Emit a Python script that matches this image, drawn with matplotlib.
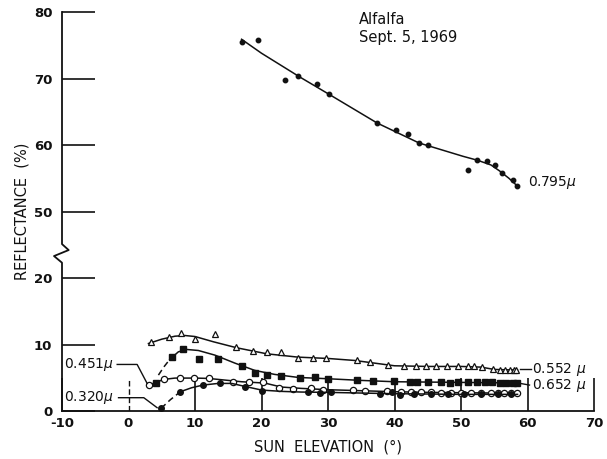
import matplotlib
matplotlib.use("Agg")
import matplotlib.pyplot as plt
from matplotlib.lines import Line2D

plt.rcParams['font.family'] = ['DejaVu Sans']

# ---- data (sun elevation in degrees, reflectance in %) ----
# 0.795 micron (filled dots), upper part of the broken axis
x795 = [17.1, 19.4, 23.6, 25.5, 28.3, 30.2, 37.4, 40.2, 42.0, 43.7, 45.0,
        51.1, 52.4, 53.9, 55.1, 56.2, 57.8, 58.4]
y795 = [75.5, 75.8, 69.7, 70.4, 69.2, 67.6, 63.3, 62.3, 61.7, 60.3, 60.0,
        56.2, 57.7, 57.6, 57.0, 55.8, 54.8, 53.8]
cx795 = [17.0, 20.0, 25.8, 30.2, 37.4, 43.7, 50.3, 52.5, 54.5, 55.8, 57.2, 58.4]
cy795 = [75.9, 73.8, 70.2, 67.6, 63.3, 60.3, 58.3, 57.7, 57.0, 56.1, 55.0, 53.9]

# 0.552 micron (open triangles)
x552 = [3.4, 6.05, 7.9, 10.05, 13.05, 16.2, 18.7, 20.8, 22.9, 25.5, 27.8, 29.7,
        34.3, 36.3, 39.0, 41.5, 43.2, 44.8, 46.3, 47.9, 49.5, 51.0, 52.0, 53.2,
        54.8, 55.8, 56.6, 57.3, 57.9, 58.3]
y552 = [10.4, 11.2, 11.8, 10.8, 11.6, 9.6, 9.0, 8.8, 8.8, 8.0, 8.0, 7.9,
        7.7, 7.3, 6.9, 6.7, 6.7, 6.7, 6.7, 6.7, 6.7, 6.7, 6.7, 6.6,
        6.25, 6.1, 6.1, 6.1, 6.1, 6.15]
cx552 = [3.0, 5.0, 7.0, 8.5, 10.0, 12.8, 16.3, 20.8, 25.5, 30.0, 34.0, 37.0,
         40.0, 45.0, 50.0, 53.0, 55.0, 58.5]
cy552 = [10.15, 10.8, 11.25, 11.35, 11.2, 10.4, 9.5, 8.6, 8.1, 7.9, 7.6, 7.2,
         6.8, 6.7, 6.7, 6.6, 6.25, 6.15]

# 0.652 micron (filled squares)
x652 = [4.2, 6.55, 8.2, 10.55, 13.4, 17.0, 19.05, 20.8, 23.0, 25.8, 28.0, 30.0,
        34.3, 36.7, 39.9, 42.3, 43.4, 45.0, 47.0, 48.3, 49.6, 51.1, 52.4, 53.6,
        54.7, 55.8, 56.8, 57.8, 58.4]
y652 = [4.25, 8.05, 9.25, 7.75, 7.75, 6.8, 5.75, 5.4, 5.3, 5.0, 5.05, 4.85,
        4.6, 4.5, 4.45, 4.3, 4.3, 4.3, 4.35, 4.15, 4.4, 4.3, 4.3, 4.3,
        4.3, 4.25, 4.25, 4.25, 4.2]
dx652 = [4.5, 5.3, 6.2]
dy652 = [5.4, 6.6, 7.75]
cx652 = [6.2, 7.5, 8.8, 10.5, 13.0, 16.0, 19.0, 22.0, 25.5, 30.0, 35.0, 40.0,
         45.0, 50.0, 55.0, 58.5]
cy652 = [7.75, 8.9, 9.25, 9.1, 8.4, 7.2, 6.1, 5.5, 5.05, 4.85, 4.6, 4.4,
         4.35, 4.3, 4.25, 4.2]

# 0.451 micron (open circles)
x451 = [3.05, 5.3, 7.7, 9.9, 12.05, 15.7, 18.05, 20.3, 22.7, 24.8, 27.4, 29.3,
        33.7, 35.5, 38.8, 41.0, 42.5, 44.0, 45.5, 47.0, 48.5, 50.0, 51.5, 53.0,
        54.5, 55.5, 56.5, 57.5, 58.4]
y451 = [3.9, 4.75, 4.9, 4.9, 4.9, 4.4, 4.4, 4.3, 3.5, 3.3, 3.4, 3.2,
        3.15, 3.0, 3.0, 2.85, 2.85, 2.8, 2.8, 2.75, 2.75, 2.7, 2.7, 2.75,
        2.7, 2.65, 2.65, 2.65, 2.65]
cx451 = [3.05, 5.3, 7.0, 10.0, 12.0, 14.0, 17.0, 20.5, 23.0, 26.0, 30.0, 35.0,
         40.0, 45.0, 50.0, 55.0, 58.5]
cy451 = [3.9, 4.75, 4.95, 4.95, 4.9, 4.7, 4.4, 4.2, 3.6, 3.4, 3.2, 3.05,
         2.9, 2.8, 2.75, 2.7, 2.7]

# 0.320 micron (filled circles)
x320 = [4.9, 7.8, 11.2, 13.7, 17.55, 20.05, 27.0, 28.8, 30.5, 37.8, 39.6, 40.8,
        43.0, 45.5, 48.0, 50.5, 53.0, 55.5, 57.5]
y320 = [0.4, 2.9, 3.9, 4.25, 3.65, 3.0, 2.8, 2.65, 2.9, 2.5, 2.8, 2.4,
        2.6, 2.5, 2.6, 2.5, 2.55, 2.5, 2.5]
dx320 = [4.9, 6.3, 7.8]
dy320 = [0.4, 1.7, 2.9]
cx320 = [7.8, 9.5, 11.2, 13.5, 15.5, 17.5, 20.0, 23.0, 26.0, 30.0, 35.0, 40.0,
         45.0, 50.0, 55.0, 58.5]
cy320 = [2.9, 3.5, 3.9, 4.15, 4.15, 3.7, 3.15, 2.95, 2.85, 2.8, 2.7, 2.6,
         2.55, 2.5, 2.5, 2.5]

xticks = [-10, 0, 10, 20, 30, 40, 50, 60, 70]
yticks_real = [0, 10, 20, 50, 60, 70, 80]

# axis is broken between 20 and 50: values above the break are shifted down
BREAK_AT = 40
SHIFT = 20


def pos(vals):
    return [v - SHIFT if v >= BREAK_AT else v for v in vals]


ink = '#111111'
fig = plt.figure(figsize=(6.07, 4.59), dpi=100)
ax = fig.add_axes([62 / 607, 48 / 459, 532 / 607, 399 / 459])
ax.set_xlim(-10, 70)
ax.set_ylim(0, 60)

# curves
ax.plot(cx795, pos(cy795), color=ink, lw=1.1)
ax.plot(x795, pos(y795), 'o', color=ink, ms=3.2)

ax.plot(cx552, cy552, color=ink, lw=1.1)
ax.plot(x552, y552, '^', mfc='white', mec=ink, mew=0.9, ms=5)

ax.plot(cx652, cy652, color=ink, lw=1.1)
ax.plot(dx652, dy652, color=ink, lw=1.1, dashes=(4, 2.5))
ax.plot(x652, y652, 's', color=ink, ms=4)

ax.plot(cx451, cy451, color=ink, lw=1.1)
ax.plot(x451, y451, 'o', mfc='white', mec=ink, mew=0.9, ms=4.5)

ax.plot(cx320, cy320, color=ink, lw=1.1)
ax.plot(dx320, dy320, color=ink, lw=1.1, dashes=(4, 2.5))
ax.plot(x320, y320, 'o', color=ink, ms=4)

# series labels with leaders
lab = dict(fontsize=10, color=ink, va='center')
ax.text(60.0, pos([54.3])[0], '0.795$\\mu$', ha='left', **lab)
ax.plot([58.8, 60.5], [6.3, 6.3], color=ink, lw=1.0)
ax.text(60.7, 6.3, '0.552 $\\mu$', ha='left', **lab)
ax.plot([58.9, 60.3], [4.15, 3.9], color=ink, lw=1.0)
ax.text(60.7, 3.8, '0.652 $\\mu$', ha='left', **lab)
ax.plot([-1.7, 1.3, 2.8], [7.0, 7.0, 4.15], color=ink, lw=1.0, clip_on=False)
ax.text(-2.2, 7.0, '0.451$\\mu$', ha='right', **lab)
ax.plot([-1.5, 2.3, 4.3], [2.0, 2.0, 0.5], color=ink, lw=1.0, clip_on=False)
ax.text(-2.2, 2.0, '0.320$\\mu$', ha='right', **lab)

ax.text(34.6, 60, 'Alfalfa\nSept. 5, 1969', ha='left', va='top',
        fontsize=10.5, color=ink, linespacing=1.25)

# axes styling
for s in ['top', 'right', 'left']:
    ax.spines[s].set_visible(False)
ax.spines['bottom'].set_linewidth(1.3)
ax.spines['bottom'].set_color(ink)

ax.set_xticks(xticks)
ax.set_xticklabels([str(t) for t in xticks])
ax.set_yticks(pos(yticks_real))
ax.set_yticklabels([str(t) for t in yticks_real])
ax.tick_params(direction='in', length=24, width=1.2, color=ink,
               labelsize=9.5, labelcolor=ink)
ax.tick_params(axis='x', pad=4)
ax.tick_params(axis='y', pad=7)
for t in ax.get_xticklabels() + ax.get_yticklabels():
    t.set_fontweight('bold')

# the tick at 0 is dashed in the original
ax.xaxis.get_major_ticks()[1].tick1line.set_visible(False)
ax.axvline(0, ymax=5 / 60, color=ink, lw=1.0, dashes=(4, 2))

# left axis line with zigzag break
tr = ax.transData
ax.add_line(Line2D([-10, -10, -11.2, -9.0, -10, -10],
                   [0, 22.3, 23.3, 24.2, 25.1, 60],
                   color=ink, lw=1.3, clip_on=False, transform=tr))

ax.set_xlabel('SUN  ELEVATION  (°)', fontsize=10.5, color=ink, labelpad=7)
ax.set_ylabel('REFLECTANCE  (%)', fontsize=10.5, color=ink, labelpad=3)

fig.savefig('out.png', dpi=100, facecolor='white')
